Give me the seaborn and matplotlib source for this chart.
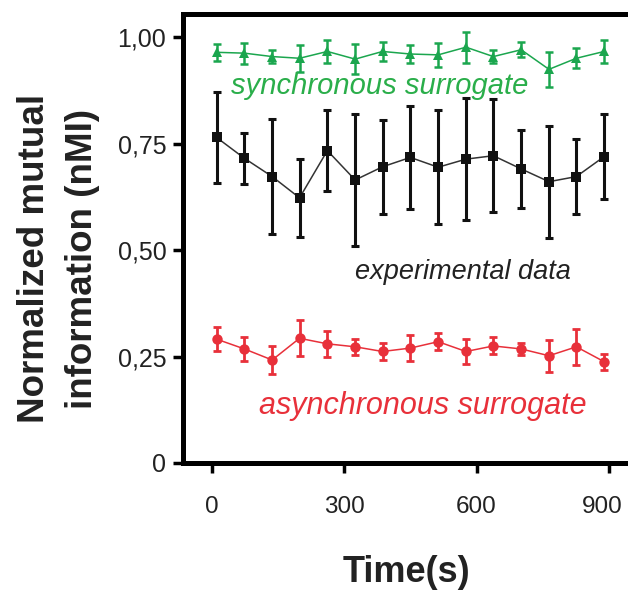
import numpy as np
import pandas as pd
import matplotlib
matplotlib.use("Agg")
import matplotlib.pyplot as plt
import matplotlib.transforms as mtransforms
import seaborn as sns

# time of each window (s)
tiempo = [11, 74, 137, 199, 262, 325, 387, 450, 513, 576, 638, 701, 764, 826, 889]

# experimental data (black)
exp_media = [0.765, 0.716, 0.673, 0.623, 0.734, 0.665, 0.696, 0.718,
             0.695, 0.714, 0.722, 0.691, 0.661, 0.673, 0.720]
exp_err = [0.106, 0.060, 0.136, 0.092, 0.095, 0.154, 0.110, 0.121,
           0.134, 0.143, 0.133, 0.092, 0.132, 0.089, 0.099]

# synchronous surrogate (green)
sinc_media = [0.965, 0.963, 0.955, 0.951, 0.967, 0.949, 0.967, 0.961,
              0.959, 0.977, 0.955, 0.971, 0.925, 0.951, 0.967]
sinc_err = [0.020, 0.025, 0.015, 0.032, 0.028, 0.036, 0.023, 0.020,
            0.029, 0.036, 0.015, 0.018, 0.041, 0.024, 0.026]

# asynchronous surrogate (red)
asinc_media = [0.291, 0.268, 0.242, 0.293, 0.280, 0.273, 0.262, 0.270,
               0.285, 0.262, 0.275, 0.268, 0.252, 0.273, 0.238]
asinc_err = [0.028, 0.029, 0.034, 0.042, 0.031, 0.019, 0.019, 0.031,
             0.020, 0.030, 0.020, 0.014, 0.038, 0.042, 0.019]

y_ticks = [0, 0.25, 0.50, 0.75, 1.00]
y_ticklabels = ['0', '0,25', '0,50', '0,75', '1,00']
x_ticks = [0, 300, 600, 900]

verde = '#1ba64e'
rojo = '#e8303a'
negro = '#111111'

sns.set_style("ticks")
plt.rcParams['font.family'] = ['Liberation Sans', 'DejaVu Sans']

df = pd.concat([
    pd.DataFrame({'t': tiempo, 'nmi': exp_media, 'serie': 'exp'}),
    pd.DataFrame({'t': tiempo, 'nmi': sinc_media, 'serie': 'sinc'}),
    pd.DataFrame({'t': tiempo, 'nmi': asinc_media, 'serie': 'asinc'}),
])

fig = plt.figure(figsize=(6.28, 5.91), dpi=100)
# the frame runs off the right edge of the figure (no right spine visible)
ax = fig.add_axes([0.2914, 0.2166, 0.7086, 0.7597])

# error bars first, then lines + markers on top
for med, err, col, lw in [(exp_media, exp_err, negro, 2.2),
                          (sinc_media, sinc_err, verde, 1.8),
                          (asinc_media, asinc_err, rojo, 2.0)]:
    ax.errorbar(tiempo, med, yerr=err, fmt='none', ecolor=col,
                elinewidth=lw, capsize=3, capthick=lw, zorder=2)

sns.lineplot(data=df, x='t', y='nmi', hue='serie', style='serie',
             palette={'exp': '#333333', 'sinc': verde, 'asinc': rojo},
             markers={'exp': 's', 'sinc': '^', 'asinc': 'o'},
             dashes=False, linewidth=1.1, markersize=7.5,
             markeredgewidth=0, legend=False, ax=ax, zorder=3)
# marker faces a bit darker for the black series
for ln in ax.lines:
    if ln.get_color() == '#333333':
        ln.set_markerfacecolor(negro)

ax.text(380, 0.885, 'synchronous surrogate', color='#2aae4a', style='italic',
        fontsize=21, ha='center', va='center')
ax.text(568, 0.448, 'experimental data', color='#222222', style='italic',
        fontsize=19.5, ha='center', va='center')
ax.text(478, 0.135, 'asynchronous surrogate', color=rojo, style='italic',
        fontsize=22, ha='center', va='center')

ax.set_xlim(-65, 943)
ax.set_ylim(0, 1.055)
ax.set_yticks(y_ticks)
ax.set_yticklabels(y_ticklabels)
ax.set_xticks(x_ticks)

for s in ax.spines.values():
    s.set_linewidth(3.6)
    s.set_color('black')
ax.spines['right'].set_visible(False)

ax.tick_params(axis='both', direction='out', length=7, width=2.5,
               color='black', labelsize=18, labelcolor='#222222')
ax.tick_params(axis='x', pad=17, labelsize=17.5)
ax.tick_params(axis='y', pad=5)

# last x label sits a little left of its tick, as in the original
lbl = ax.get_xticklabels()[-1]
lbl.set_transform(lbl.get_transform() +
                  mtransforms.ScaledTranslation(-0.07, 0, fig.dpi_scale_trans))

ax.set_xlabel('Time(s)', fontsize=26, fontweight='bold', color='#222222')
ax.set_ylabel('Normalized mutual\ninformation (nMI)', fontsize=26.5,
              fontweight='bold', color='#222222', linespacing=1.45)
ax.xaxis.set_label_coords(0.51 * 0.699 / 0.7086, -0.205)
ax.yaxis.set_label_coords(-0.19 * 0.699 / 0.7086, 0.455)

fig.savefig('out.png', dpi=100)
